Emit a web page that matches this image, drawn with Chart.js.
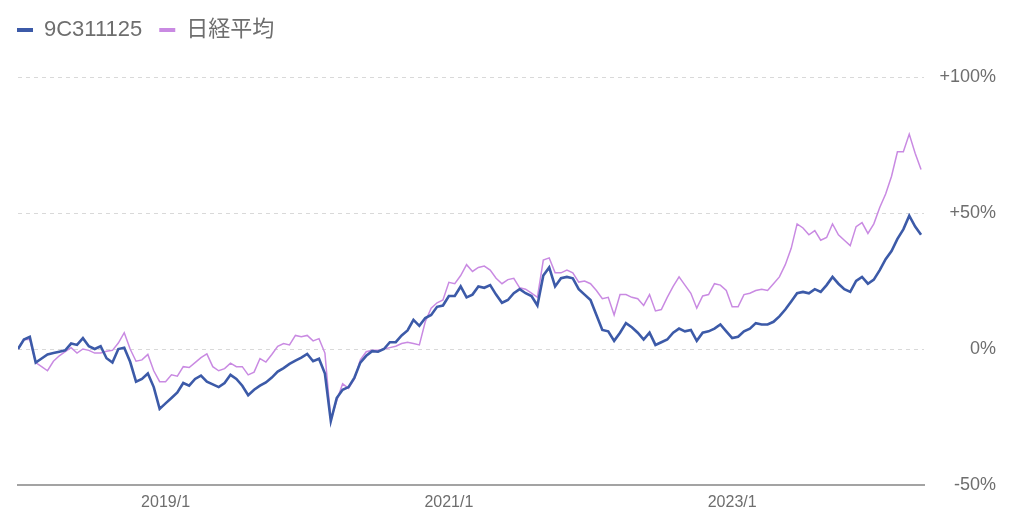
<!DOCTYPE html>
<html>
<head>
<meta charset="utf-8">
<script src="https://cdn.jsdelivr.net/npm/chart.js@4/dist/chart.umd.min.js"></script>
<style>
  html, body { margin: 0; padding: 0; background: #ffffff; }
  #wrap { width: 1024px; height: 525px; position: relative; }
</style>
</head>
<body>
<div id="wrap"><canvas id="c" width="1024" height="525"></canvas></div>
<script>
// Semi-monthly sample dates
const dates = [
  "2017/12/15",
  "2018/1/1","2018/1/15","2018/2/1","2018/2/15","2018/3/1","2018/3/15","2018/4/1","2018/4/15","2018/5/1","2018/5/15","2018/6/1","2018/6/15",
  "2018/7/1","2018/7/15","2018/8/1","2018/8/15","2018/9/1","2018/9/15","2018/10/1","2018/10/15","2018/11/1","2018/11/15","2018/12/1","2018/12/15",
  "2019/1/1","2019/1/15","2019/2/1","2019/2/15","2019/3/1","2019/3/15","2019/4/1","2019/4/15","2019/5/1","2019/5/15","2019/6/1","2019/6/15",
  "2019/7/1","2019/7/15","2019/8/1","2019/8/15","2019/9/1","2019/9/15","2019/10/1","2019/10/15","2019/11/1","2019/11/15","2019/12/1","2019/12/15",
  "2020/1/1","2020/1/15","2020/2/1","2020/2/15","2020/3/1","2020/3/15","2020/4/1","2020/4/15","2020/5/1","2020/5/15","2020/6/1","2020/6/15",
  "2020/7/1","2020/7/15","2020/8/1","2020/8/15","2020/9/1","2020/9/15","2020/10/1","2020/10/15","2020/11/1","2020/11/15","2020/12/1","2020/12/15",
  "2021/1/1","2021/1/15","2021/2/1","2021/2/15","2021/3/1","2021/3/15","2021/4/1","2021/4/15","2021/5/1","2021/5/15","2021/6/1","2021/6/15",
  "2021/7/1","2021/7/15","2021/8/1","2021/8/15","2021/9/1","2021/9/15","2021/10/1","2021/10/15","2021/11/1","2021/11/15","2021/12/1","2021/12/15",
  "2022/1/1","2022/1/15","2022/2/1","2022/2/15","2022/3/1","2022/3/15","2022/4/1","2022/4/15","2022/5/1","2022/5/15","2022/6/1","2022/6/15",
  "2022/7/1","2022/7/15","2022/8/1","2022/8/15","2022/9/1","2022/9/15","2022/10/1","2022/10/15","2022/11/1","2022/11/15","2022/12/1","2022/12/15",
  "2023/1/1","2023/1/15","2023/2/1","2023/2/15","2023/3/1","2023/3/15","2023/4/1","2023/4/15","2023/5/1","2023/5/15","2023/6/1","2023/6/15",
  "2023/7/1","2023/7/15","2023/8/1","2023/8/15","2023/9/1","2023/9/15","2023/10/1","2023/10/15","2023/11/1","2023/11/15","2023/12/1","2023/12/15",
  "2024/1/1","2024/1/15","2024/2/1","2024/2/15","2024/3/1","2024/3/15","2024/4/1","2024/4/15","2024/5/1"
];

// 9C311125 (% change)
const fundValues = [
  0, 3.5, 4.5, -5, -3.5, -2, -1.5, -1, -0.5, 2,
  1.5, 4, 1, 0, 1, -3.4, -5, 0, 0.5, -4.7,
  -12, -11, -9, -14, -22, -20, -18, -16, -12.5, -13.5,
  -11, -9.8, -12, -13, -14, -12.5, -9.5, -11, -13.5, -17,
  -15, -13.5, -12.3, -10.5, -8.3, -7, -5.5, -4.3, -3.2, -1.8,
  -4.5, -3.6, -9, -26.5, -18, -15, -14, -10.5, -5, -2.5,
  -0.8, -1, 0, 2.5, 2.5, 5, 6.8, 10.7, 8.5, 11.4,
  12.5, 15.5, 16, 19.5, 19.5, 23, 19, 20, 23, 22.5,
  23.5, 20, 17, 18, 20.5, 22, 20.5, 19.5, 16, 27,
  30, 23, 26, 26.5, 26, 22, 20, 18, 12.5, 7,
  6.5, 3, 6, 9.5, 8, 6, 3.5, 6, 1.5, 2.5,
  3.5, 6, 7.5, 6.5, 7, 3, 6, 6.5, 7.5, 9,
  6.5, 4, 4.5, 6.5, 7.5, 9.5, 9, 9, 10, 12,
  14.5, 17.5, 20.5, 21, 20.5, 22, 21, 23.5, 26.5, 24,
  22, 21, 25, 26.5, 24, 25.5, 29, 33, 36, 40.5,
  44, 49, 45, 42
];

// 日経平均 (% change)
const nikkeiValues = [
  0, 3.5, 3.5, -5, -6.5, -8, -4.5, -2.5, -1, 0.5,
  -1.5, 0, -0.5, -1.5, -1.5, -0.8, -0.5, 2.2, 6, 0,
  -4.5, -4, -2, -8, -12, -12, -9.5, -10, -6.5, -6.8,
  -5, -3.2, -1.8, -6.5, -8, -7.2, -5.2, -6.5, -6.5, -9.5,
  -8.5, -3.5, -4.8, -2, 1, 2, 1.5, 5, 4.5, 5,
  3, 3.8, -1.5, -26, -19, -12.8, -14.5, -11, -4, -1,
  -0.5, -0.5, 0, 0.5, 1, 2, 2.5, 2, 1.5, 10,
  15, 17, 18, 24.5, 24, 27, 31, 28.5, 30, 30.5,
  29, 26, 24, 25.5, 26, 22.5, 22, 20.5, 19, 32.7,
  33.5, 28, 28, 29, 28, 24.6, 25, 24, 21.5, 18.5,
  19, 12.5, 20, 20, 19, 18.5, 16, 20, 14, 14.5,
  19, 23, 26.5, 23.5, 20.5, 15, 19.5, 20, 24, 23.5,
  21.5, 15.5, 15.5, 20, 20.5, 21.5, 22, 21.5, 24, 26.5,
  31, 37, 46, 44.5, 42, 43.5, 40, 41, 46, 42,
  40, 38, 45, 46.5, 42.5, 46, 52, 57, 63.5, 72.5,
  72.5, 79, 72, 66
];

const seriesNames = ["9C311125", "日経平均"];
const xTickLabels = ["2019/1", "2021/1", "2023/1"];
const yTickValues = [-50, 0, 50, 100];

const FONT = '"Liberation Sans", "Noto Sans CJK JP", Arial, sans-serif';
const TEXT = '#6e6e6e';

const legendTweak = {
  id: 'legendTweak',
  beforeLayout(chart) {
    const lg = chart.legend;
    if (!lg || lg._tweaked) return;
    const orig = lg.fit;
    lg.fit = function () { orig.call(this); this.height += 28; };
    lg._tweaked = true;
  },
  afterLayout(chart) {
    const lg = chart.legend;
    if (!lg) return;
    lg.left -= 18;
    lg.top += 2;
  }
};

const toPoints = arr => arr.map((v, i) => ({ x: i, y: v }));

new Chart(document.getElementById('c'), {
  type: 'line',
  data: {
    datasets: [
      {
        label: seriesNames[0],
        data: toPoints(fundValues),
        borderColor: '#3c5aa8',
        backgroundColor: '#3c5aa8',
        borderWidth: 2.6,
        pointRadius: 0,
        tension: 0
      },
      {
        label: seriesNames[1],
        data: toPoints(nikkeiValues),
        borderColor: '#c98ae2',
        backgroundColor: '#c98ae2',
        borderWidth: 1.5,
        pointRadius: 0,
        tension: 0
      }
    ]
  },
  options: {
    responsive: false,
    animation: false,
    layout: { padding: { left: 18, right: 28, top: 0, bottom: 0 } },
    plugins: {
      tooltip: { enabled: false },
      legend: {
        display: true,
        position: 'top',
        align: 'start',
        labels: {
          boxWidth: 16,
          boxHeight: 4,
          padding: 17,
          color: TEXT,
          font: { family: FONT, size: 22 },
          generateLabels(chart) {
            return chart.data.datasets.map((ds, i) => ({
              text: ds.label,
              fillStyle: ds.borderColor,
              strokeStyle: ds.borderColor,
              lineWidth: 0,
              hidden: false,
              datasetIndex: i,
              fontColor: TEXT
            }));
          }
        }
      }
    },
    scales: {
      x: {
        type: 'linear',
        min: 0,
        max: 153.5,
        grid: { display: false, drawTicks: false },
        border: { display: true, color: '#a3a3a3', width: 2 },
        afterBuildTicks(axis) {
          axis.ticks = xTickLabels.map(l => ({ value: dates.indexOf(l + '/1') }));
        },
        afterFit(axis) { axis.height = 40; },
        ticks: {
          autoSkip: false,
          maxRotation: 0,
          padding: 8,
          color: TEXT,
          font: { family: FONT, size: 16 },
          callback(value) {
            const d = dates[value] || '';
            return d.split('/').slice(0, 2).join('/');
          }
        }
      },
      y: {
        position: 'right',
        min: -50,
        max: 100,
        afterBuildTicks(axis) {
          axis.ticks = yTickValues.map(v => ({ value: v }));
        },
        afterFit(axis) { axis.width = 72; },
        grid: {
          drawTicks: false,
          lineWidth: 1,
          color: ctx => (ctx.tick && ctx.tick.value === -50) ? 'rgba(0,0,0,0)' : '#d9d9d9'
        },
        border: { display: false, dash: [4, 4] },
        ticks: {
          crossAlign: 'far',
          padding: 16,
          color: TEXT,
          font: { family: FONT, size: 18 },
          callback(v) { return (v > 0 ? '+' : '') + v + '%'; }
        }
      }
    }
  },
  plugins: [legendTweak]
});
</script>
</body>
</html>
